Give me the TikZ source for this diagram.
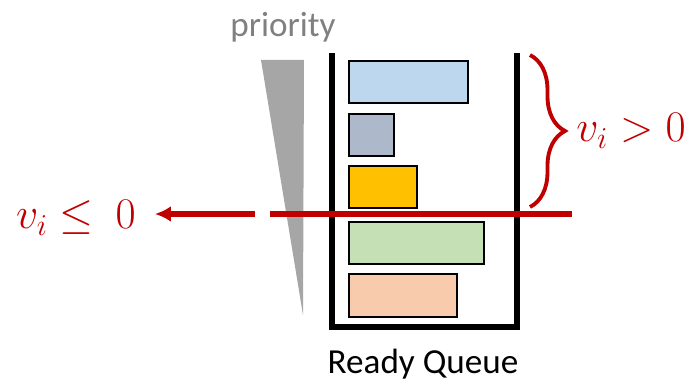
\documentclass[tikz,border=0pt]{standalone}
\usepackage{amsmath}
\usepackage{fontspec}
\setmainfont{Carlito}
\usetikzlibrary{arrows.meta,decorations.pathreplacing}

\begin{document}
\begin{tikzpicture}[x=0.02cm,y=-0.02cm]
  % Colors
  \definecolor{cutcolor}{RGB}{192,0,0}
  \definecolor{wedgecolor}{RGB}{166,166,166}
  \definecolor{priotext}{RGB}{128,128,128}
  \definecolor{jobblue}{RGB}{189,215,238}
  \definecolor{jobslate}{RGB}{173,185,202}
  \definecolor{jobgold}{RGB}{255,192,0}
  \definecolor{jobgreen}{RGB}{197,224,180}
  \definecolor{jobpeach}{RGB}{248,203,173}

  % Styles
  \tikzstyle{queue wall}=[line width=3.2pt,line join=miter]
  \tikzstyle{job}=[draw,line width=1pt,anchor=north west,inner sep=0pt,minimum height=0.84cm]
  \tikzstyle{cut line}=[draw=cutcolor,line width=3.2pt]
  \tikzstyle{label text}=[font=\fontsize{20}{24}\selectfont,inner sep=0pt]
  \tikzstyle{math text}=[font=\fontsize{24}{28}\selectfont,text=cutcolor,inner sep=0pt]

  \useasboundingbox (0,0) rectangle (694,381);

  % priority wedge
  \node[label text,text=priotext,anchor=base] (prio) at (283,37) {priority};
  \fill[wedgecolor] (261,60) -- (304,60) -- (303,315) -- cycle;

  % the queue
  \draw[queue wall] (332,53) -- (332,327) -- (517,327) -- (517,53);
  \node[job,fill=jobblue,minimum width=2.38cm] (job1) at (348,60) {};
  \node[job,fill=jobslate,minimum width=0.9cm] (job2) at (348,113) {};
  \node[job,fill=jobgold,minimum width=1.36cm] (job3) at (348,165) {};
  \node[job,fill=jobgreen,minimum width=2.7cm] (job4) at (348,221) {};
  \node[job,fill=jobpeach,minimum width=2.16cm,minimum height=0.86cm] (job5) at (348,273) {};
  \node[label text,anchor=base] (rq) at (423,374) {Ready Queue};

  % cut
  \coordinate (cutleft) at (270,214);
  \coordinate (cutright) at (572,214);
  \coordinate (arrtail) at (255,214);
  \draw[cut line] (cutleft) -- (cutright);
  \node[math text,anchor=base east] (vle) at (136,229) {$v_i \leq\ 0$};
  \draw[cut line,-{Latex[length=3.2mm,width=3.2mm]},shorten >=0.38cm]
    (arrtail) -- (vle.east |- arrtail);

  % brace
  \coordinate (bracetop) at (530,55);
  \coordinate (bracebot) at (530,207);
  \draw[cutcolor,line width=2.2pt,decorate,decoration={brace,amplitude=0.7cm}]
    (bracetop) -- (bracebot);
  \node[math text,anchor=base west] (vgt) at (576,142) {$v_i > 0$};
\end{tikzpicture}
\end{document}
